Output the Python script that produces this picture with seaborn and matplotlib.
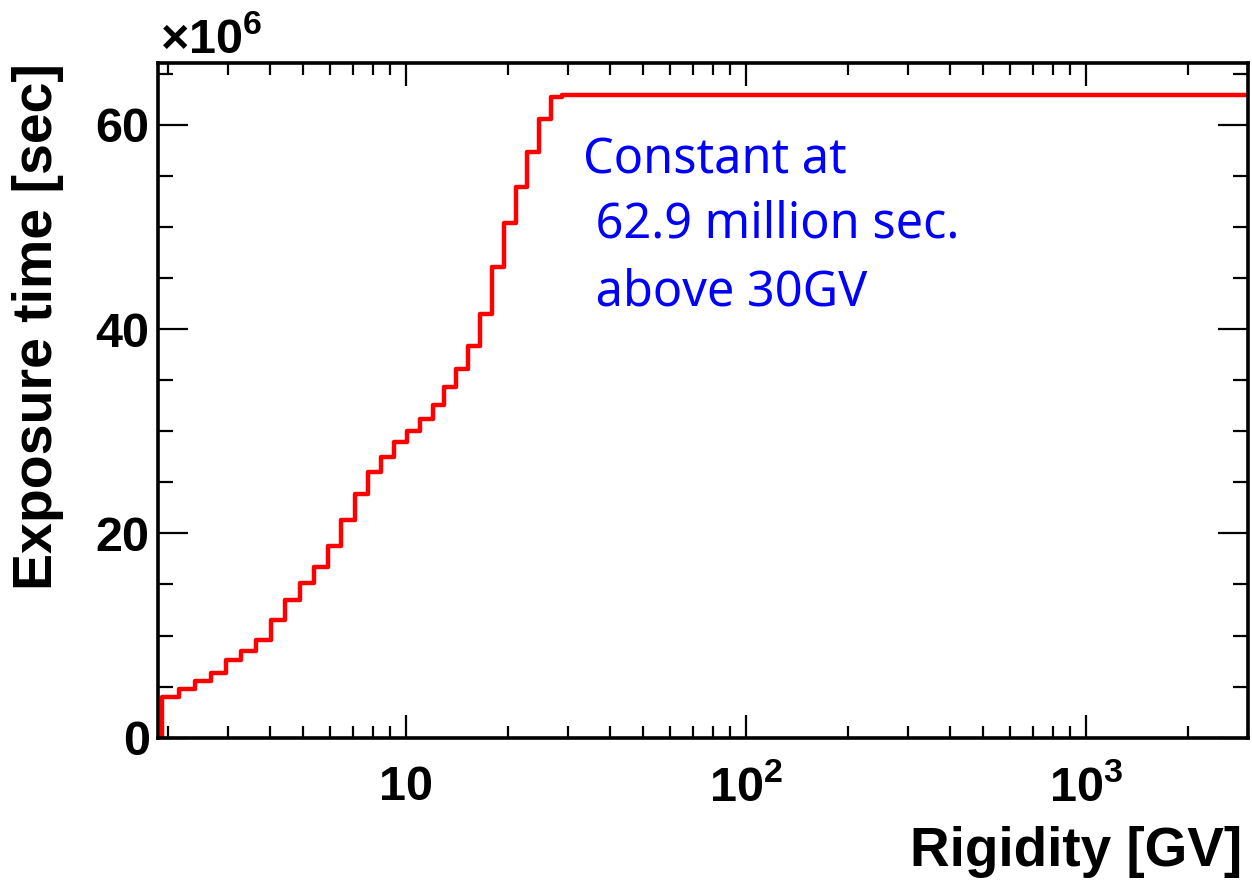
import numpy as np
import pandas as pd
import matplotlib
matplotlib.use("Agg")
import matplotlib.pyplot as plt
import seaborn as sns
from matplotlib.ticker import LogLocator, MultipleLocator, FuncFormatter, NullFormatter

# Rigidity bin edges [GV] and exposure time per bin [10^6 s]
rigidity_edges = [1.92, 2.15, 2.40, 2.67, 2.97, 3.29, 3.64, 4.02, 4.43, 4.88,
                  5.37, 5.90, 6.47, 7.09, 7.76, 8.48, 9.26, 10.1, 11.0, 12.0,
                  13.0, 14.1, 15.3, 16.6, 18.0, 19.5, 21.1, 22.8, 24.7, 26.7,
                  28.8, 3000.0]
exposure_1e6 = [4.02, 4.75, 5.59, 6.31, 7.62, 8.50, 9.55, 11.5, 13.5, 15.1,
                16.7, 18.8, 21.3, 23.9, 26.0, 27.5, 28.9, 30.0, 31.2, 32.6,
                34.3, 36.1, 38.3, 41.5, 46.1, 50.4, 53.9, 57.3, 60.6, 62.7,
                62.9]
note_lines = ["Constant at", " 62.9 million sec.", " above 30GV"]

sns.set_theme(style="ticks")
plt.rcParams["font.family"] = ["Liberation Sans", "DejaVu Sans"]
plt.rcParams["font.weight"] = "bold"
plt.rcParams["mathtext.default"] = "regular"
for key in ["text.color", "axes.labelcolor", "xtick.color", "ytick.color",
            "axes.edgecolor"]:
    plt.rcParams[key] = "black"

fig = plt.figure(figsize=(12.52, 8.81), dpi=100)
fig.patch.set_facecolor("white")
ax = fig.add_axes([158 / 1252, 1 - 737.7 / 881, 1090 / 1252, 674.7 / 881])
ax.set_facecolor("white")

df = pd.DataFrame({"rigidity": rigidity_edges[:-1], "exposure": exposure_1e6})
sns.histplot(data=df, x="rigidity", weights="exposure", bins=rigidity_edges,
             element="step", fill=False, color="#ff0000", linewidth=3.2, ax=ax)
# rising edge of the first bin
ax.vlines(rigidity_edges[0], 0, exposure_1e6[0], color="#ff0000", linewidth=3.2)

ax.set_xscale("log")
ax.set_xlim(1.87, 3000)
ax.set_ylim(0, 1.05 * max(exposure_1e6))
ax.set_xlabel("")
ax.set_ylabel("")

ax.xaxis.set_major_locator(LogLocator(base=10))
ax.xaxis.set_minor_locator(LogLocator(base=10, subs=np.arange(2, 10)))
ax.xaxis.set_minor_formatter(NullFormatter())
ax.xaxis.set_major_formatter(FuncFormatter(
    lambda v, p: "10" if abs(v - 10) < 1e-9 else r"$10^{%d}$" % round(np.log10(v))))
ax.yaxis.set_major_locator(MultipleLocator(20))
ax.yaxis.set_minor_locator(MultipleLocator(5))

for s in ax.spines.values():
    s.set_linewidth(2.6)
    s.set_color("black")
    s.set_visible(True)

ax.tick_params(which="both", direction="in", top=True, right=True,
               width=1.6, color="black", labelcolor="black", labelsize=35)
ax.xaxis.set_tick_params(which="major", length=16.5, pad=20)
ax.xaxis.set_tick_params(which="minor", length=8.5)
ax.yaxis.set_tick_params(which="major", length=21.5, pad=6)
ax.yaxis.set_tick_params(which="minor", length=10.5)
for lab in ax.get_xticklabels() + ax.get_yticklabels():
    lab.set_fontweight("bold")

fig.text(160 / 1252, 1 - 53 / 881, r"$\times$10$^{6}$", fontsize=35,
         fontweight="bold", ha="left", va="baseline", color="black")

fig.text(1242 / 1252, 1 - 866 / 881, "Rigidity [GV]", fontsize=39.5,
         fontweight="bold", ha="right", va="baseline", color="black")
fig.text(38 / 1252, 1 - 63 / 881, "Exposure time [sec]", fontsize=40,
         fontweight="bold", ha="center", va="top", rotation=90, color="black")

for line, base in zip(note_lines, [173, 238, 305]):
    fig.text(583 / 1252, 1 - base / 881, line, fontsize=35, color="#0000ff",
             family=["Noto Sans", "DejaVu Sans"], fontweight="normal",
             ha="left", va="baseline")

fig.savefig("out.png", dpi=100, facecolor="white")
